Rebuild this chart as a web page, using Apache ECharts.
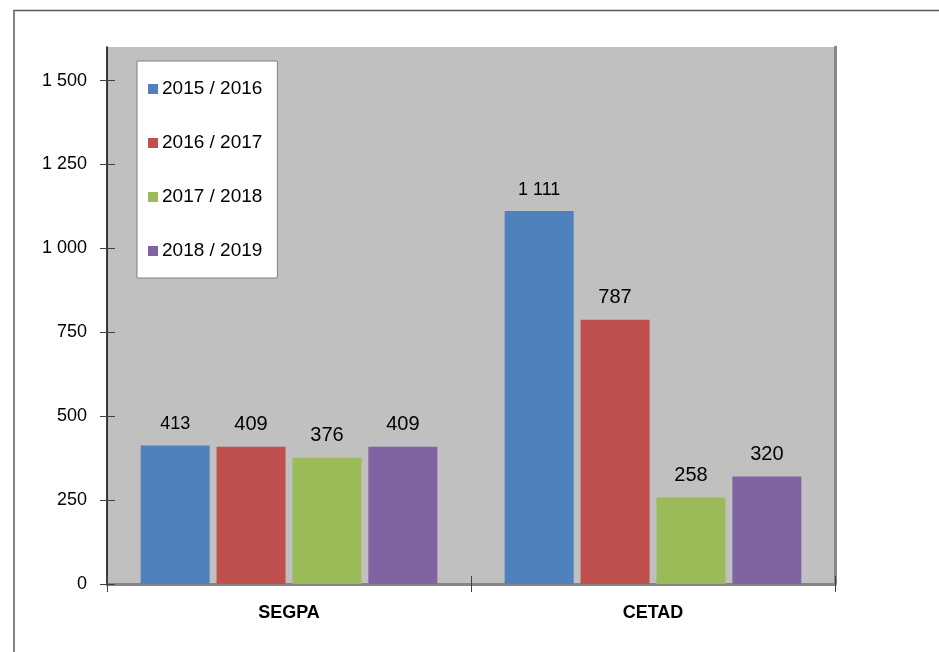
<!DOCTYPE html>
<html>
<head>
<meta charset="utf-8">
<script src="https://cdn.jsdelivr.net/npm/echarts@6/dist/echarts.min.js"></script>
<style>
  html, body { margin: 0; padding: 0; background: #fff; }
  #chart { width: 939px; height: 652px; }
</style>
</head>
<body>
<div id="chart"></div>
<script>
// data
const categories = ['SEGPA', 'CETAD']
const seriesNames = ['2015 / 2016', '2016 / 2017', '2017 / 2018', '2018 / 2019']
const values2015 = [413, 1111]
const values2016 = [409, 787]
const values2017 = [376, 258]
const values2018 = [409, 320]
const yTicks = [0, 250, 500, 750, 1000, 1250, 1500]

const colors = ['#4F81BD', '#C0504D', '#9BBB59', '#8064A2']
const allValues = [values2015, values2016, values2017, values2018]
// blue labels are a bit smaller in the original
const labelSizes = [18, 20, 20, 20]

// thousands separated with a space, like "1 111"
function fmt (v) {
  return String(v).replace(/\B(?=(\d{3})+(?!\d))/g, ' ')
}

const chart = echarts.init(document.getElementById('chart'))

const yBase = { type: 'value', min: 0, max: 1600, interval: 250, splitLine: { show: false } }

chart.setOption({
  animation: false,
  grid: {
    left: 107,
    top: 47,
    right: 104,
    bottom: 68,
    show: true,
    backgroundColor: '#C0C0C0',
    borderWidth: 0
  },
  legend: {
    orient: 'vertical',
    left: 137,
    top: 61,
    data: seriesNames,
    icon: 'rect',
    itemWidth: 10,
    itemHeight: 10,
    itemGap: 34,
    padding: [18, 15, 17, 11],
    backgroundColor: '#fff',
    borderColor: '#7f7f7f',
    borderWidth: 1,
    textStyle: { fontFamily: 'Liberation Sans', fontSize: 19, color: '#000', lineHeight: 20, padding: [0, 0, 0, -1] }
  },
  xAxis: [
    {
      type: 'category',
      data: categories,
      position: 'bottom',
      axisLine: { lineStyle: { color: '#000', width: 1.5 } },
      axisTick: { length: 8, lineStyle: { color: '#404040' } },
      axisLabel: { margin: 20, fontFamily: 'Liberation Sans', fontWeight: 'bold', fontSize: 18, color: '#000' }
    },
    {
      // grey top border of the plot
      type: 'category',
      data: categories,
      position: 'top',
      axisLine: { lineStyle: { color: '#868686', width: 3 } },
      axisTick: { show: false },
      axisLabel: { show: false }
    },
    {
      // ticks crossing the axis line
      type: 'category',
      data: categories,
      position: 'bottom',
      offset: -8,
      axisLine: { show: false },
      axisTick: { show: true, length: 16, lineStyle: { color: '#404040' } },
      axisLabel: { show: false }
    }
  ],
  yAxis: [
    {
      ...yBase,
      position: 'left',
      axisLine: { show: true, lineStyle: { color: '#000', width: 1.5 } },
      axisTick: { show: true, length: 7, customValues: yTicks, lineStyle: { color: '#404040' } },
      axisLabel: {
        margin: 20,
        customValues: yTicks,
        formatter: fmt,
        fontFamily: 'Liberation Sans',
        fontSize: 18,
        color: '#000'
      }
    },
    {
      // grey right border of the plot
      ...yBase,
      position: 'right',
      axisLine: { show: true, lineStyle: { color: '#868686', width: 3 } },
      axisTick: { show: false },
      axisLabel: { show: false }
    },
    {
      ...yBase,
      position: 'left',
      offset: -8,
      axisLine: { show: false },
      axisTick: { show: true, length: 15, customValues: yTicks, lineStyle: { color: '#404040' } },
      axisLabel: { show: false }
    }
  ],
  series: seriesNames.map((name, i) => ({
    name: name,
    type: 'bar',
    xAxisIndex: 0,
    yAxisIndex: 0,
    data: allValues[i],
    barWidth: 69,
    barGap: '10%',
    itemStyle: { color: colors[i] },
    label: {
      show: true,
      position: 'top',
      distance: 12,
      formatter: (p) => fmt(p.value),
      fontFamily: 'Liberation Sans',
      fontSize: labelSizes[i],
      color: '#000'
    }
  })),
  graphic: [
    {
      // outer chart frame, runs off the right and bottom edges
      type: 'rect',
      shape: { x: 14, y: 10.5, width: 1000, height: 1000 },
      style: { fill: 'none', stroke: '#5a5a5a', lineWidth: 1.5 },
      silent: true
    }
  ]
})
</script>
</body>
</html>
